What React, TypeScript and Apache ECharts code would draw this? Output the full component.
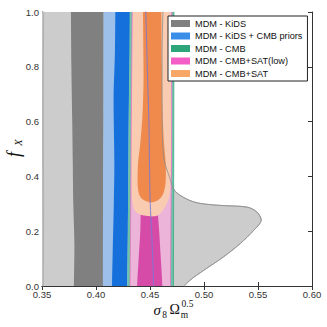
import React, { useEffect, useRef } from "react";
import * as echarts from "echarts";

// ---- data (contour boundaries) ----
// x: sigma8 * Omega_m^0.5, y: f_X
const KIDS_2S_LEFT = [[0.3497, -0.01], [0.3499, 0.3], [0.35, 0.6], [0.3498, 1.01]];
const KIDS_2S_RIGHT = [[0.462, 1.01], [0.4612, 0.85], [0.4612, 0.65], [0.4626, 0.471], [0.468, 0.398], [0.4734, 0.345], [0.4904, 0.307], [0.512, 0.295], [0.54, 0.288], [0.549, 0.27], [0.553, 0.24], [0.546, 0.203], [0.5336, 0.155], [0.518, 0.106], [0.4997, 0.057], [0.487, 0.021], [0.48, -0.01]];
const KIDS_1S_LEFT = [[0.3795, -0.01], [0.38, 0.15], [0.379, 0.3], [0.3785, 0.45], [0.378, 0.6], [0.3772, 0.8], [0.3768, 1.01]];
const KIDS_1S_RIGHT = [[0.4071, 1.01], [0.407, 0.6], [0.4066, 0.3], [0.4065, -0.01]];

const KC_2S_LEFT = [[0.4064, -0.01], [0.4065, 0.3], [0.4069, 0.6], [0.407, 1.01]];
const KC_2S_RIGHT = [[0.436, 1.01], [0.436, -0.01]];
const KC_1S_LEFT = [[0.4148, -0.01], [0.4155, 0.13], [0.4165, 0.3], [0.417, 0.45], [0.4163, 0.68], [0.4175, 0.85], [0.4179, 1.01]];
const KC_1S_RIGHT = [[0.4318, 1.01], [0.4315, 0.85], [0.4305, 0.68], [0.43, 0.45], [0.4295, 0.2], [0.4288, -0.01]];

const CMB_2S_LEFT = [[0.429, -0.01], [0.4297, 0.3], [0.4305, 0.7], [0.4312, 1.01]];
const CMB_2S_RIGHT = [[0.4722, 1.01], [0.472, 0.5], [0.4718, 0.2], [0.4717, -0.01]];

const SL_2S_LEFT = [[0.4315, -0.01], [0.432, 0.2], [0.4325, 0.5], [0.4335, 1.01]];
const SL_2S_RIGHT = [[0.4702, 1.01], [0.47, 0.5], [0.4693, 0.2], [0.469, -0.01]];
const SL_1S_LEFT = [[0.438, -0.01], [0.4395, 0.1], [0.441, 0.2], [0.4415, 0.3], [0.442, 0.5], [0.443, 1.01]];
const SL_1S_RIGHT = [[0.457, 1.01], [0.4565, 0.5], [0.4568, 0.3], [0.4585, 0.2], [0.46, 0.1], [0.4615, -0.01]];

const SAT_2S_LEFT = [[0.4518, 0.254], [0.446, 0.256], [0.44, 0.262], [0.436, 0.275], [0.434, 0.3], [0.433, 0.34], [0.4325, 0.45], [0.4328, 0.55], [0.4332, 0.7], [0.4336, 0.85], [0.434, 1.01]];
const SAT_2S_RIGHT = [[0.4688, 1.01], [0.469, 0.85], [0.4695, 0.7], [0.4697, 0.5], [0.469, 0.37], [0.468, 0.33], [0.4655, 0.3], [0.461, 0.272], [0.457, 0.257]];
const SAT_1S_LEFT = [[0.451, 0.305], [0.446, 0.31], [0.442, 0.32], [0.4395, 0.34], [0.4385, 0.38], [0.439, 0.45], [0.441, 0.52], [0.443, 0.62], [0.444, 0.75], [0.4438, 0.88], [0.4435, 1.01]];
const SAT_1S_RIGHT = [[0.4605, 1.01], [0.461, 0.8], [0.4615, 0.65], [0.463, 0.52], [0.4645, 0.45], [0.4645, 0.38], [0.463, 0.345], [0.4605, 0.325], [0.456, 0.31]];

const PURPLE_LINE = [[0.4535, -0.01], [0.4525, 0.1], [0.4515, 0.2], [0.4502, 0.3], [0.4495, 0.45], [0.449, 0.6], [0.4475, 0.8], [0.446, 1.01]];
const GRAY_EDGE_LEFT = [[0.3512, -0.01], [0.3515, 0.3], [0.3512, 0.6], [0.3515, 1.01]];

const SERIES_NAMES = ["MDM - KiDS", "MDM - KiDS + CMB priors", "MDM - CMB", "MDM - CMB+SAT(low)", "MDM - CMB+SAT"];
const LEGEND_COLORS = ["#808080", "#3a8ee8", "#2ca57a", "#f25ec6", "#f8a766"];

const X_MIN = 0.35, X_MAX = 0.6, X_STEP = 0.05;
const Y_MIN = 0, Y_MAX = 1, Y_STEP = 0.2;

type Level = { left: number[][]; right: number[][]; fill: string; stroke?: string };
const CONTOURS: Level[][] = [
  [
    { left: KIDS_2S_LEFT, right: KIDS_2S_RIGHT, fill: "#cccccc", stroke: "#9a9a9a" },
    { left: KIDS_1S_LEFT, right: KIDS_1S_RIGHT, fill: "#808080" },
  ],
  [
    { left: KC_2S_LEFT, right: KC_2S_RIGHT, fill: "#9cc0ea" },
    { left: KC_1S_LEFT, right: KC_1S_RIGHT, fill: "#1570dc" },
  ],
  [{ left: CMB_2S_LEFT, right: CMB_2S_RIGHT, fill: "#6cc3a8" }],
  [
    { left: SL_2S_LEFT, right: SL_2S_RIGHT, fill: "#ecb4d8" },
    { left: SL_1S_LEFT, right: SL_1S_RIGHT, fill: "#d64ba7" },
  ],
  [
    { left: SAT_2S_LEFT, right: SAT_2S_RIGHT, fill: "#f9ccb2" },
    { left: SAT_1S_LEFT, right: SAT_1S_RIGHT, fill: "#ef8a4c" },
  ],
];

const SANS = "Liberation Sans, Arial, sans-serif";
const SERIF = "Liberation Serif, DejaVu Serif, serif";

// boundary outline; edges touching the plot frame are carried well past it
// so the smoothing bends happen outside the clipped area
function outline(lv: Level): number[][] {
  const pts: number[][] = [];
  const L = lv.left, R = lv.right;
  if (L[0][1] <= 0) pts.push([L[0][0], -0.15]);
  pts.push(...L);
  if (L[L.length - 1][1] >= 1) pts.push([L[L.length - 1][0], 1.15]);
  if (R[0][1] >= 1) pts.push([R[0][0], 1.15]);
  pts.push(...R);
  if (R[R.length - 1][1] <= 0) pts.push([R[R.length - 1][0], -0.15]);
  return pts;
}

function makeContourSeries(idx: number) {
  const levels = CONTOURS[idx];
  return {
    type: "custom",
    name: SERIES_NAMES[idx],
    silent: true,
    itemStyle: { color: LEGEND_COLORS[idx] },
    data: levels.map(() => [0.45, 0.5]),
    renderItem: (params: any, api: any) => {
      const lv = levels[params.dataIndex];
      const pts = outline(lv).map((p) => api.coord(p));
      const cs = params.coordSys;
      return {
        type: "polygon",
        shape: { points: pts, smooth: 0.3 },
        style: { fill: lv.fill, stroke: lv.stroke || "none", lineWidth: lv.stroke ? 0.8 : 0 },
        clipPath: { type: "rect", shape: { x: cs.x, y: cs.y, width: cs.width, height: cs.height } },
      };
    },
  };
}

function lineSeries(name: string, data: number[][], color: string, width: number) {
  return {
    type: "line",
    name,
    data,
    smooth: 0.3,
    showSymbol: false,
    silent: true,
    clip: true,
    z: 3,
    lineStyle: { color, width },
  };
}

export default function App() {
  const ref = useRef<HTMLDivElement>(null);
  useEffect(() => {
    if (!ref.current) return;
    const chart = echarts.init(ref.current, null, { renderer: "svg" });
    const axisCommon = {
      type: "value",
      axisLine: { show: true, lineStyle: { color: "#333", width: 1 } },
      axisTick: { show: true, inside: true, length: 4, lineStyle: { color: "#333" } },
      splitLine: { show: false },
    };
    chart.setOption({
      animation: false,
      backgroundColor: "#ffffff",
      grid: { left: 42, right: 15, top: 12, bottom: 41, containLabel: false },
      legend: {
        orient: "vertical",
        left: 168,
        top: 16,
        selectedMode: false,
        backgroundColor: "#ffffff",
        borderColor: "#222",
        borderWidth: 1,
        padding: [3, 5, 3, 3],
        itemWidth: 19,
        itemHeight: 7,
        itemGap: 3.5,
        icon: "rect",
        textStyle: { fontSize: 9.2, color: "#111", fontFamily: SANS },
        data: SERIES_NAMES.map((n, i) => ({ name: n, icon: "rect", itemStyle: { color: LEGEND_COLORS[i] } })),
        z: 10,
      },
      xAxis: [
        {
          ...axisCommon,
          position: "bottom",
          min: X_MIN,
          max: X_MAX,
          interval: X_STEP,
          axisLabel: {
            show: true,
            margin: 3,
            fontSize: 9.5,
            color: "#333",
            fontFamily: SANS,
            showMinLabel: true,
            showMaxLabel: true,
            formatter: (v: number) => v.toFixed(2),
          },
        },
        {
          ...axisCommon,
          position: "top",
          min: X_MIN,
          max: X_MAX,
          interval: X_STEP,
          axisLabel: { show: false },
        },
      ],
      yAxis: [
        {
          ...axisCommon,
          position: "left",
          min: Y_MIN,
          max: Y_MAX,
          interval: Y_STEP,
          axisLabel: {
            show: true,
            margin: 3,
            fontSize: 9.5,
            color: "#333",
            fontFamily: SANS,
            showMinLabel: true,
            showMaxLabel: true,
            formatter: (v: number) => v.toFixed(1),
          },
        },
        {
          ...axisCommon,
          position: "right",
          min: Y_MIN,
          max: Y_MAX,
          interval: Y_STEP,
          axisLabel: { show: false },
        },
      ],
      graphic: [
        {
          type: "group",
          x: 19.5,
          y: 159,
          rotation: Math.PI / 2,
          children: [
            { type: "text", x: 2, y: -6, style: { text: "f", fontSize: 18, fontStyle: "italic", fontFamily: SERIF, fill: "#111", align: "left", verticalAlign: "middle" } },
            { type: "text", x: 13, y: -1.5, style: { text: "X", fontSize: 11, fontStyle: "italic", fontFamily: SERIF, fill: "#111", align: "left", verticalAlign: "middle" } },
          ],
        },
        { type: "text", x: 153.5, y: 309.5, style: { text: "σ", fontSize: 15, fontStyle: "italic", fontFamily: SERIF, fill: "#111", align: "left", verticalAlign: "middle" } },
        { type: "text", x: 162.3, y: 314.5, style: { text: "8", fontSize: 9.5, fontFamily: SERIF, fill: "#111", align: "left", verticalAlign: "middle" } },
        { type: "text", x: 169.5, y: 309.5, style: { text: "Ω", fontSize: 14, fontFamily: SERIF, fill: "#111", align: "left", verticalAlign: "middle" } },
        { type: "text", x: 180.7, y: 314.5, style: { text: "m", fontSize: 9.5, fontFamily: SERIF, fill: "#111", align: "left", verticalAlign: "middle" } },
        { type: "text", x: 181.5, y: 303.5, style: { text: "0.5", fontSize: 9.5, fontFamily: SERIF, fill: "#111", align: "left", verticalAlign: "middle" } },
      ],
      series: [
        makeContourSeries(0),
        makeContourSeries(1),
        makeContourSeries(2),
        makeContourSeries(3),
        makeContourSeries(4),
        lineSeries("edge-gray-l", GRAY_EDGE_LEFT, "#a8a8a8", 0.8),
        lineSeries("edge-pink-l", SL_2S_LEFT, "#ef6cc4", 0.7),
        lineSeries("edge-pink-r", SL_2S_RIGHT, "#ef6cc4", 0.7),
        lineSeries("edge-teal-r", CMB_2S_RIGHT, "#2ca57a", 0.7),
        lineSeries("edge-gray", KIDS_2S_RIGHT, "#8f8f8f", 0.8),
        lineSeries("edge-purple", PURPLE_LINE, "#7878d8", 0.9),
      ],
    });
    return () => chart.dispose();
  }, []);
  return (
    <div
      ref={ref}
      style={{ position: "fixed", left: 0, top: 0, width: 327, height: 327, background: "#fff" }}
    />
  );
}
